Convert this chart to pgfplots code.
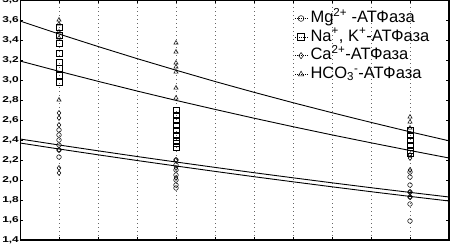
\documentclass[border=0pt]{standalone}
\usepackage{pgfplots}
\pgfplotsset{compat=1.18}
\usepackage{fontspec}
\setmainfont{Liberation Sans}
\newfontfamily\wideb[FakeStretch=1.4]{Liberation Sans}
\usetikzlibrary{calc}
\pgfplotsset{myleg/.style={legend image code/.code={%
  \draw[black, line width=0.6pt, dash pattern=on 1pt off 1pt] (0pt,0pt) -- (14pt,0pt);
  \draw[##1, solid, mark options={solid, scale=1.25, fill=white}] plot coordinates {(6pt,0pt)};}}}
\begin{document}
\begin{tikzpicture}
\begin{axis}[name=ax,
  scale only axis, width=429pt, height=240pt,
  xmin=0, xmax=11, ymin=1.4, ymax=3.8,
  xtick={0,1,...,11}, xticklabels={},
  ytick={1.4,1.6,...,3.81},
  /pgf/number format/assume math mode=true,
  yticklabel style={font=\wideb\bfseries\fontsize{8.5}{9}\selectfont, inner sep=1pt,
    /pgf/number format/.cd, use comma, fixed, fixed zerofill, precision=1},
  tick align=inside, major tick length=3pt,
  tick style={black, line width=0.6pt},
  axis line style={line width=0.8pt},
  xmajorgrids, grid style={black!60, line width=0.5pt, dash pattern=on 0.6pt off 3.4pt},
  legend style={draw=none, fill=none, at={(rel axis cs:0.64,0.96)}, anchor=north west,
    row sep=1.2pt, inner sep=0pt,
    nodes={inner sep=1.2pt, text height=11.5pt, text depth=3.5pt, font=\fontsize{16.5}{17}\selectfont}},
  legend cell align=left,
]
\addplot[only marks, mark=o, mark size=2.3pt, black, line width=0.5pt, myleg] coordinates {
 (1,2.50) (1,2.45) (1,2.40) (1,2.35) (1,2.30) (1,2.23)
 (4,2.20) (4,2.15) (4,2.10) (4,2.05) (4,2.00) (4,1.95) (4,1.92)
 (10,2.08) (10,2.03) (10,1.95) (10,1.88) (10,1.83) (10,1.76) (10,1.59)};
\addlegendentry{Mg\textsuperscript{2+} -АТФаза}
\addplot[only marks, mark=square, mark size=2.8pt, black, line width=0.5pt, myleg] coordinates {
 (1,3.53) (1,3.45) (1,3.37) (1,3.27) (1,3.18) (1,3.12) (1,3.05) (1,2.98)
 (4,2.70) (4,2.65) (4,2.60) (4,2.55) (4,2.50) (4,2.45) (4,2.40) (4,2.37) (4,2.33)
 (10,2.50) (10,2.45) (10,2.40) (10,2.35) (10,2.30) (10,2.27)};
\addlegendentry{Na\textsuperscript{+}, K\textsuperscript{+}-АТФаза}
\addplot[only marks, mark=diamond, mark size=2.5pt, black, line width=0.5pt, myleg] coordinates {
 (1,2.67) (1,2.62) (1,2.55) (1,2.30) (1,2.12) (1,2.07)
 (4,2.20) (4,2.12) (4,2.02)
 (10,2.25) (10,2.22) (10,2.10) (10,1.88) (10,1.83)};
\addlegendentry{Ca\textsuperscript{2+}-АТФаза}
\addplot[only marks, mark=triangle, mark size=2.5pt, black, line width=0.5pt, myleg] coordinates {
 (1,3.60) (1,3.56) (1,3.48) (1,3.42) (1,2.80)
 (4,3.37) (4,3.28) (4,3.17) (4,3.13) (4,3.08) (4,2.92) (4,2.82)
 (10,2.63) (10,2.58) (10,2.52)};
\addlegendentry{HCO\textsubscript{3}\textsuperscript{-}-АТФаза}
\addplot[black, line width=0.9pt, forget plot] coordinates {
 (0,3.590) (1,3.460) (2,3.335) (3,3.214) (4,3.098) (5,2.985) (6,2.877) (7,2.773) (8,2.673) (9,2.576) (10,2.482) (11,2.392)};
\addplot[black, line width=0.9pt, forget plot] coordinates {
 (0,3.190) (1,3.087) (2,2.987) (3,2.890) (4,2.796) (5,2.706) (6,2.618) (7,2.533) (8,2.451) (9,2.372) (10,2.295) (11,2.220)};
\addplot[black, line width=0.9pt, forget plot] coordinates {
 (0,2.410) (1,2.350) (2,2.292) (3,2.235) (4,2.180) (5,2.126) (6,2.073) (7,2.022) (8,1.972) (9,1.923) (10,1.876) (11,1.830)};
\addplot[black, line width=0.9pt, forget plot] coordinates {
 (0,2.370) (1,2.310) (2,2.252) (3,2.195) (4,2.140) (5,2.086) (6,2.033) (7,1.982) (8,1.932) (9,1.883) (10,1.836) (11,1.790)};
\draw[line width=1.8pt] (rel axis cs:0,0) -- (rel axis cs:1,0);
\draw[line width=1.4pt] (rel axis cs:1,0) -- (rel axis cs:1,1);
\end{axis}
\pgfresetboundingbox
\path[use as bounding box] ($(ax.south west)+(-20pt,-6pt)$) rectangle ($(ax.north east)+(1pt,0pt)$);
\end{tikzpicture}
\end{document}
